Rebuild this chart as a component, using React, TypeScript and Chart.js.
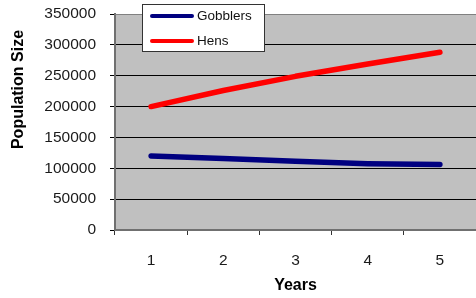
import React, { useEffect, useRef } from "react";
import { Chart, registerables } from "chart.js";

Chart.register(...registerables);

const years = ["1", "2", "3", "4", "5"];
const gobblers = [120000, 116000, 111500, 107500, 106000];
const hens = [200000, 226000, 249000, 269000, 288000];
const seriesNames = ["Gobblers", "Hens"];
const seriesColors = ["#000080", "#FF0000"];
const yMin = 0;
const yMax = 350000;
const yStep = 50000;
const xTitle = "Years";
const yTitle = "Population Size";

const FONT = 'Arial, "Liberation Sans", sans-serif';

const plotBg = {
  id: "plotBg",
  beforeDraw(chart: any) {
    const { ctx, chartArea } = chart;
    const { left, top, right, bottom } = chartArea;
    ctx.save();
    ctx.fillStyle = "#C0C0C0";
    ctx.fillRect(left, top, right - left, bottom - top);
    ctx.restore();
  },
  afterDraw(chart: any) {
    const { ctx, chartArea } = chart;
    const { left, top, right } = chartArea;
    ctx.save();
    // top border of plot area
    ctx.strokeStyle = "#808080";
    ctx.lineWidth = 1;
    ctx.beginPath();
    ctx.moveTo(left, Math.round(top) + 0.5);
    ctx.lineTo(right, Math.round(top) + 0.5);
    ctx.stroke();

    // legend box
    const bx = 142.5, by = 4.5, bw = 122, bh = 47;
    ctx.fillStyle = "#FFFFFF";
    ctx.fillRect(bx, by, bw, bh);
    ctx.strokeStyle = "#333333";
    ctx.lineWidth = 1;
    ctx.strokeRect(bx, by, bw, bh);
    const rows = [16, 41];
    seriesNames.forEach((name, i) => {
      const y = rows[i];
      ctx.strokeStyle = seriesColors[i];
      ctx.lineWidth = 4;
      ctx.lineCap = "round";
      ctx.beginPath();
      ctx.moveTo(152, y);
      ctx.lineTo(192, y);
      ctx.stroke();
      ctx.fillStyle = "#111111";
      ctx.font = `13.5px ${FONT}`;
      ctx.textAlign = "left";
      ctx.textBaseline = "middle";
      ctx.fillText(name, 197, y + 0.5);
    });

    // y axis title
    ctx.translate(19, 89.5);
    ctx.rotate(-Math.PI / 2);
    ctx.fillStyle = "#000000";
    ctx.font = `bold 16px ${FONT}`;
    ctx.textAlign = "center";
    ctx.textBaseline = "middle";
    ctx.fillText(yTitle, 0, 0);
    ctx.restore();
  },
};

export default function App() {
  const ref = useRef<HTMLCanvasElement | null>(null);

  useEffect(() => {
    document.body.style.margin = "0";
    const canvas = ref.current;
    if (!canvas) return;
    const chart = new Chart(canvas, {
      type: "line",
      data: {
        labels: years,
        datasets: [
          {
            label: seriesNames[0],
            data: gobblers,
            borderColor: seriesColors[0],
            backgroundColor: seriesColors[0],
            borderWidth: 5.5,
            borderCapStyle: "round",
            borderJoinStyle: "round",
            pointRadius: 0,
            tension: 0,
            fill: false,
          },
          {
            label: seriesNames[1],
            data: hens,
            borderColor: seriesColors[1],
            backgroundColor: seriesColors[1],
            borderWidth: 5.5,
            borderCapStyle: "round",
            borderJoinStyle: "round",
            pointRadius: 0,
            tension: 0,
            fill: false,
          },
        ],
      },
      options: {
        animation: false,
        responsive: false,
        devicePixelRatio: 1,
        layout: { padding: { top: 14, right: 0, left: 0, bottom: 0 } },
        plugins: {
          legend: { display: false },
          tooltip: { enabled: false },
        },
        scales: {
          x: {
            offset: true,
            grid: {
              offset: true,
              drawOnChartArea: false,
              drawTicks: true,
              tickLength: 5,
              tickColor: "#333333",
            },
            border: { display: true, color: "#707070", width: 2 },
            ticks: {
              color: "#1a1a1a",
              font: { family: FONT, size: 15.5 },
              padding: 16,
              maxRotation: 0,
            },
            title: {
              display: true,
              text: xTitle,
              color: "#000000",
              font: { family: FONT, size: 16, weight: "bold" },
              padding: { top: 0, bottom: 3 },
            },
            afterFit(scale: any) {
              scale.height = 68;
              scale.paddingLeft = 0;
              scale.paddingRight = 0;
            },
          },
          y: {
            min: yMin,
            max: yMax,
            ticks: {
              stepSize: yStep,
              color: "#1a1a1a",
              font: { family: FONT, size: 15.5 },
              padding: 14,
              callback: (v: any) => String(v),
            },
            grid: {
              color: "#000000",
              lineWidth: 1,
              tickLength: 5,
              tickColor: "#000000",
            },
            border: { display: true, color: "#707070", width: 2 },
            afterFit(scale: any) {
              scale.width = 115;
              scale.paddingTop = 0;
              scale.paddingBottom = 0;
            },
          },
        },
      },
      plugins: [plotBg],
    });
    return () => chart.destroy();
  }, []);

  return (
    <div style={{ position: "fixed", left: 0, top: 0, width: 476, height: 298 }}>
      <canvas ref={ref} width={476} height={298} style={{ width: 476, height: 298 }} />
    </div>
  );
}
